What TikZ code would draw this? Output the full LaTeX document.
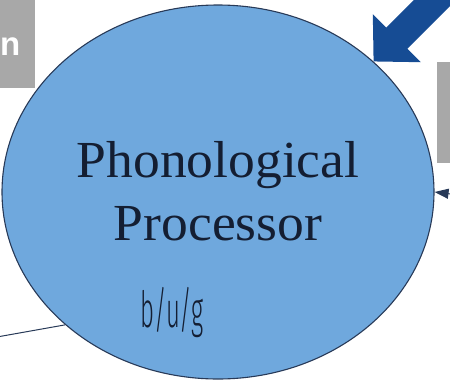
\documentclass[tikz,border=0pt]{standalone}
\usepackage{fontspec}
\setmainfont{Liberation Serif}
\newfontfamily\procfont{LiberationSerif-Regular.ttf}
\newfontfamily\boxfont{Liberation Sans}
\newfontfamily\tagfont{Fira Sans Light}
\usetikzlibrary{arrows.meta, shapes.geometric, positioning}
\tikzset{
    >={Latex}
}
\definecolor{procblue}{RGB}{111,168,221}
\definecolor{procedge}{RGB}{40,58,88}
\definecolor{inkblue}{RGB}{20,30,50}
\definecolor{arrowblue}{RGB}{22,76,148}
\definecolor{boxgray}{RGB}{168,168,168}

\begin{document}
\begin{tikzpicture}[x=1pt, y=-1pt,
    graybox/.style={fill=boxgray, draw=none},
    procnode/.style={ellipse, draw=procedge, line width=1.1pt, fill=procblue,
        minimum width=432pt, minimum height=374pt, inner sep=0pt},
    proctext/.style={text=inkblue, font=\procfont\fontsize{52}{60}\selectfont,
        xscale=1.03, anchor=base, inner sep=0pt},
    bigarrow/.style={draw=arrowblue, line width=30pt,
        -{Triangle[length=33pt 0, width=66pt 0, fill=arrowblue]}},
    smallarrow/.style={draw=procedge, line width=1pt,
        -{Triangle[length=14pt 0, width=10pt 0, fill=procedge]}}
    ]
\useasboundingbox (0,0) rectangle (450,383);
\clip (0,0) rectangle (450,383);

% side boxes
\fill[graybox] (-10,-10) rectangle (35,88);
\node[text=white, font=\boxfont\bfseries\fontsize{33}{33}\selectfont,
    anchor=base west, inner sep=0pt] (boxtext) at (0,55) {n};
\fill[graybox] (437,62) rectangle (470,163);

% processor
\node[procnode] (proc) at (218,192) {};
\node[proctext] (line1) at (218,177) {Phonological};
\node[proctext] (line2) at (218,240) {Processor};
\node[text=inkblue, font=\tagfont\fontsize{50}{50}\selectfont, xscale=0.48,
    anchor=base, inner sep=0pt] (bug) at (172,327) {b/u/g};

% connectors
\coordinate (bigsrc) at (500,-65);
\coordinate (rightsrc) at (475,197);
\coordinate (leftsrc) at (-20,340);
\draw[bigarrow] (bigsrc) -- (proc.40);
\draw[smallarrow] (rightsrc) -- (proc.east);
\draw[procedge, line width=1pt] (leftsrc) -- (proc.221);
\end{tikzpicture}
\end{document}
